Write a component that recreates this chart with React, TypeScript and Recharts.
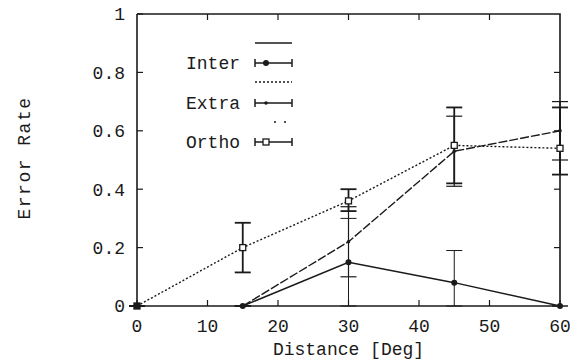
import React from 'react';
import { ComposedChart, Line, XAxis, YAxis, ErrorBar, Legend } from 'recharts';

// distance in degrees, error rate per method
const distances = [0, 15, 30, 45, 60];
const interRate = [null, 0, 0.15, 0.08, 0];
const interErr = [null, [0, 0], [0.15, 0.15], [0.08, 0.11], [0, 0]];
const extraRate = [null, 0, 0.22, 0.53, 0.6];
const extraErr = [null, [0, 0], [0.12, 0.12], [0.12, 0.12], [0.1, 0.1]];
const orthoRate = [0, 0.2, 0.36, 0.55, 0.54];
const orthoErr = [[0, 0], [0.085, 0.085], [0.035, 0.04], [0.13, 0.13], [0.09, 0.14]];

const xTicks = [0, 10, 20, 30, 40, 50, 60];
const yTicks = [0, 0.2, 0.4, 0.6, 0.8, 1];
const yTickLabels = ['0', '0.2', '0.4', '0.6', '0.8', '1'];

const data = distances.map((d, i) => ({
  distance: d,
  inter: interRate[i],
  interErr: interErr[i],
  extra: extraRate[i],
  extraErr: extraErr[i],
  ortho: orthoRate[i],
  orthoErr: orthoErr[i],
}));

const FONT = '"Liberation Mono", "DejaVu Sans Mono", monospace';
const INK = '#1a1a1a';
const TICK = 6;
const MARGIN = { top: 14, right: 10, bottom: 0, left: 0 };

// gnuplot style: labels outside, tick marks pointing into the plot
const BottomTick = (props: any) => {
  const { x, y, payload } = props;
  return (
    <g>
      <line x1={x} y1={y - 12} x2={x} y2={y - 12 - TICK} stroke={INK} strokeWidth={1.2} />
      <text x={x} y={y} dy="0.75em" textAnchor="middle" fontFamily={FONT} fontSize={18} fill={INK}>
        {payload.value}
      </text>
    </g>
  );
};

const LeftTick = (props: any) => {
  const { x, y, payload } = props;
  const idx = yTicks.indexOf(payload.value);
  return (
    <g>
      <line x1={x + 12} y1={y} x2={x + 12 + TICK} y2={y} stroke={INK} strokeWidth={1.2} />
      <text x={x} y={y} dy="0.35em" textAnchor="end" fontFamily={FONT} fontSize={18} fill={INK}>
        {idx >= 0 ? yTickLabels[idx] : payload.value}
      </text>
    </g>
  );
};

// x title, plus the top/right side of the frame with its mirrored ticks
const XTitle = (props: any) => {
  const { viewBox } = props;
  if (!viewBox) return null;
  const left = viewBox.x;
  const right = viewBox.x + viewBox.width;
  const bottom = viewBox.y;
  const top = MARGIN.top;
  const xMax = xTicks[xTicks.length - 1];
  const yMax = yTicks[yTicks.length - 1];
  return (
    <g>
      <polyline points={`${left},${top} ${right},${top} ${right},${bottom}`} fill="none" stroke={INK} strokeWidth={1.6} />
      {xTicks.slice(1, -1).map((t) => {
        const tx = left + (viewBox.width * t) / xMax;
        return <line key={`tt${t}`} x1={tx} y1={top} x2={tx} y2={top + TICK} stroke={INK} strokeWidth={1.2} />;
      })}
      {yTicks.slice(1, -1).map((t) => {
        const ty = bottom - ((bottom - top) * t) / yMax;
        return <line key={`rt${t}`} x1={right} y1={ty} x2={right - TICK} y2={ty} stroke={INK} strokeWidth={1.2} />;
      })}
      <text x={(left + right) / 2} y={bottom + 49} textAnchor="middle" fontFamily={FONT} fontSize={18} fill={INK}>
        Distance [Deg]
      </text>
    </g>
  );
};

const YTitle = (props: any) => {
  const { viewBox } = props;
  if (!viewBox) return null;
  const cx = 24;
  const cy = viewBox.y + viewBox.height / 2 - 2;
  return (
    <text x={cx} y={cy} transform={`rotate(-90 ${cx} ${cy})`} textAnchor="middle" dy="0.35em" fontFamily={FONT} fontSize={18} letterSpacing={1.5} fill={INK}>
      Error Rate
    </text>
  );
};

const Dot = (props: any) => {
  const { cx, cy, value } = props;
  if (value == null || cx == null) return null;
  return <circle cx={cx} cy={cy} r={3} fill={INK} />;
};

const Plus = (props: any) => {
  const { cx, cy, value } = props;
  if (value == null || cx == null) return null;
  return <circle cx={cx} cy={cy} r={1.8} fill={INK} />;
};

const Square = (props: any) => {
  const { cx, cy, value, index } = props;
  if (value == null || cx == null) return null;
  return <rect x={cx - 3} y={cy - 3} width={6} height={6} fill={index === 0 ? INK : '#fff'} stroke={INK} strokeWidth={1.3} />;
};

const ErrSample = ({ y, marker }: { y: number; marker: string }) => (
  <g>
    <line x1={80} y1={y} x2={117} y2={y} stroke={INK} strokeWidth={1.5} />
    <line x1={80} y1={y - 4} x2={80} y2={y + 4} stroke={INK} strokeWidth={1.5} />
    <line x1={117} y1={y - 4} x2={117} y2={y + 4} stroke={INK} strokeWidth={1.5} />
    {marker === 'dot' && <circle cx={91} cy={y} r={3} fill={INK} />}
    {marker === 'plus' && <circle cx={91} cy={y} r={1.8} fill={INK} />}
    {marker === 'square' && <rect x={88} y={y - 3} width={6} height={6} fill="#fff" stroke={INK} strokeWidth={1.3} />}
  </g>
);

const KeyBox = () => (
  <svg width={125} height={125} style={{ display: 'block' }}>
    <line x1={80} y1={13} x2={117} y2={13} stroke={INK} strokeWidth={1.5} />
    <text x={65} y={33} dy="0.35em" textAnchor="end" fontFamily={FONT} fontSize={18} fill={INK}>Inter</text>
    <ErrSample y={33} marker="dot" />
    <line x1={80} y1={52} x2={117} y2={52} stroke={INK} strokeWidth={1.3} strokeDasharray="2 2" />
    <text x={65} y={73} dy="0.35em" textAnchor="end" fontFamily={FONT} fontSize={18} fill={INK}>Extra</text>
    <ErrSample y={73} marker="plus" />
    <line x1={99} y1={92} x2={117} y2={92} stroke={INK} strokeWidth={1.5} strokeDasharray="2 8" />
    <text x={65} y={112} dy="0.35em" textAnchor="end" fontFamily={FONT} fontSize={18} fill={INK}>Ortho</text>
    <ErrSample y={112} marker="square" />
  </svg>
);

export default function App() {
  return (
    <div style={{ position: 'absolute', left: 0, top: 0, width: 570, height: 360, background: '#fff' }}>
      <ComposedChart width={570} height={360} data={data} margin={MARGIN}>
        <XAxis
          dataKey="distance"
          type="number"
          domain={[0, 60]}
          ticks={xTicks}
          height={54}
          tickSize={0}
          tickMargin={12}
          tick={<BottomTick />}
          axisLine={{ stroke: INK, strokeWidth: 1.6 }}
          label={<XTitle />}
        />
        <YAxis
          type="number"
          domain={[0, 1]}
          ticks={yTicks}
          width={137}
          tickSize={0}
          tickMargin={12}
          tick={<LeftTick />}
          axisLine={{ stroke: INK, strokeWidth: 1.6 }}
          label={<YTitle />}
        />
        <Legend
          layout="vertical"
          align="center"
          verticalAlign="middle"
          content={<KeyBox />}
          wrapperStyle={{ position: 'absolute', left: 175, top: 30, width: 125, height: 125 }}
        />
        <Line
          dataKey="ortho"
          stroke={INK}
          strokeWidth={1.4}
          strokeDasharray="2 2"
          dot={<Square />}
          activeDot={false}
          isAnimationActive={false}
          connectNulls
        >
          <ErrorBar dataKey="orthoErr" direction="y" width={8} stroke={INK} strokeWidth={1.8} isAnimationActive={false} />
        </Line>
        <Line
          dataKey="extra"
          stroke={INK}
          strokeWidth={1.4}
          strokeDasharray="9 2"
          dot={<Plus />}
          activeDot={false}
          isAnimationActive={false}
        >
          <ErrorBar dataKey="extraErr" direction="y" width={8} stroke={INK} strokeWidth={1.2} isAnimationActive={false} />
        </Line>
        <Line
          dataKey="inter"
          stroke={INK}
          strokeWidth={1.5}
          dot={<Dot />}
          activeDot={false}
          isAnimationActive={false}
        >
          <ErrorBar dataKey="interErr" direction="y" width={8} stroke={INK} strokeWidth={1} isAnimationActive={false} />
        </Line>
      </ComposedChart>
    </div>
  );
}
